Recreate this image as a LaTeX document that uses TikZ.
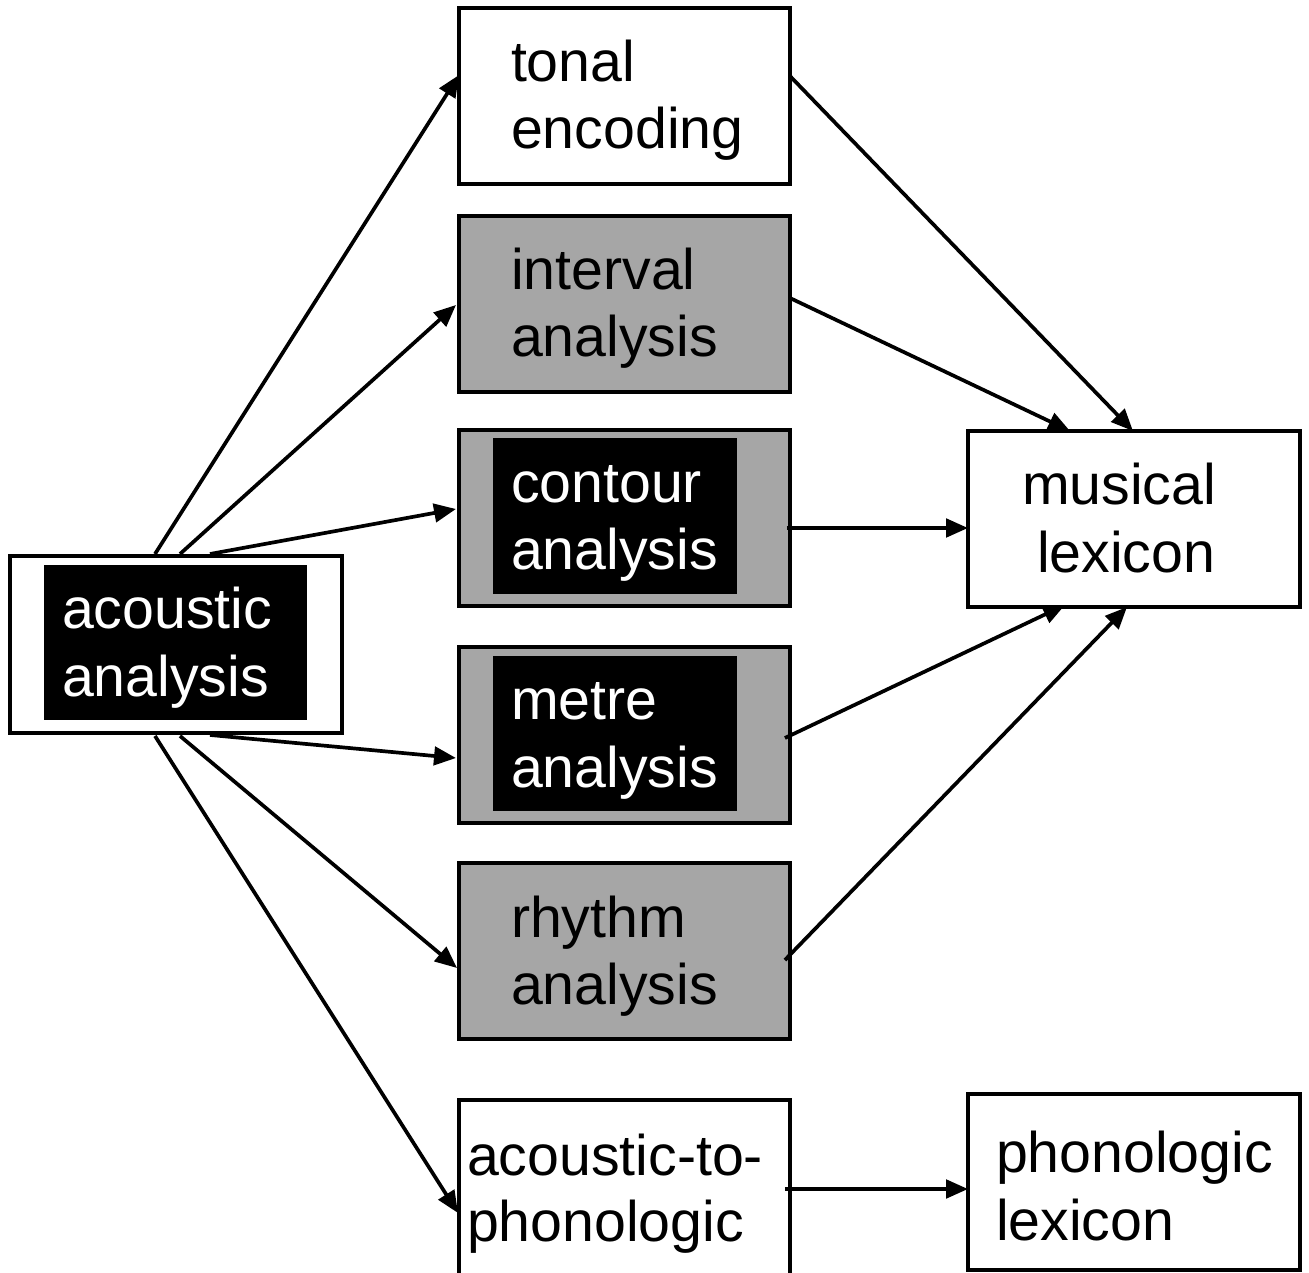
\documentclass[tikz,border=0pt]{standalone}
\usepackage{fontspec}
\setmainfont{Liberation Sans}
\usetikzlibrary{arrows.meta}
\definecolor{boxgray}{RGB}{166,166,166}
\begin{document}
\begin{tikzpicture}[x=0.02cm,y=-0.02cm,
  box/.style={draw=black,line width=2.1pt,anchor=north west,inner sep=0pt,outer sep=0pt,
              minimum width=6.62cm,minimum height=3.52cm},
  graybox/.style={box,fill=boxgray},
  blackbox/.style={fill=black,anchor=north west,inner sep=0pt,outer sep=0pt},
  txt/.style={anchor=base west,inner sep=0pt,outer sep=0pt,font=\fontsize{32.6}{38.8}\selectfont},
  wtxt/.style={txt,text=white},
  conn/.style={line width=2.1pt,-{Triangle[length=12.5pt,width=10.5pt]}}]
\useasboundingbox[fill=white] (0,0) rectangle (1309,1273);

% acoustic analysis
\node[box,minimum width=6.64cm,minimum height=3.54cm] (ac) at (10,556) {};
\node[blackbox,minimum width=5.26cm,minimum height=3.1cm] (acin) at (44,565) {};
\node[wtxt] (ac1) at (62,629) {acoustic};
\node[wtxt] (ac2) at (62,697) {analysis};

% tonal encoding
\node[box] (ton) at (459,8) {};
\node[txt] (ton1) at (511,82) {tonal};
\node[txt] (ton2) at (511,149) {encoding};

% interval analysis
\node[graybox] (int) at (459,216) {};
\node[txt] (int1) at (511,290) {interval};
\node[txt] (int2) at (511,357) {analysis};

% contour analysis
\node[graybox] (con) at (459,430) {};
\node[blackbox,minimum width=4.88cm,minimum height=3.12cm] (conin) at (493,438) {};
\node[wtxt] (con1) at (511,503) {contour};
\node[wtxt] (con2) at (511,570) {analysis};

% metre analysis
\node[graybox] (met) at (459,647) {};
\node[blackbox,minimum width=4.88cm,minimum height=3.1cm] (metin) at (493,656) {};
\node[wtxt] (met1) at (511,720) {metre};
\node[wtxt] (met2) at (511,787) {analysis};

% rhythm analysis
\node[graybox] (rhy) at (459,863) {};
\node[txt] (rhy1) at (511,937) {rhythm};
\node[txt] (rhy2) at (511,1004) {analysis};

% acoustic-to-phonologic
\node[box] (atp) at (459,1100) {};
\node[txt] (atp1) at (467,1175) {acoustic-to-};
\node[txt] (atp2) at (467,1241) {phonologic};

% musical lexicon
\node[box,minimum width=6.64cm] (mus) at (968,431) {};
\node[txt] (mus1) at (1022,505) {musical};
\node[txt] (mus2) at (1037,573) {lexicon};

% phonologic lexicon
\node[box,minimum width=6.64cm] (pho) at (968,1094) {};
\node[txt] (pho1) at (996,1172) {phonologic};
\node[txt] (pho2) at (996,1240) {lexicon};

% connectors from acoustic analysis
\draw[conn] ([shift={(145,-2)}]ac.north west) -- ([shift={(0,67)}]ton.north west);
\draw[conn] ([shift={(170,-2)}]ac.north west) -- ([shift={(-3,89)}]int.north west);
\draw[conn] ([shift={(200,-2)}]ac.north west) -- ([shift={(-3,79)}]con.north west);
\draw[conn] ([shift={(200,2)}]ac.south west) -- ([shift={(-3,111)}]met.north west);
\draw[conn] ([shift={(170,3)}]ac.south west) -- ([shift={(-2,105)}]rhy.north west);
\draw[conn] ([shift={(145,3)}]ac.south west) -- ([shift={(-1,113)}]atp.north west);

% connectors to musical lexicon
\draw[conn] ([shift={(0,68)}]ton.north east) -- ([shift={(165,0)}]mus.north west);
\draw[conn] ([shift={(0,82)}]int.north east) -- ([shift={(102,0)}]mus.north west);
\draw[conn] ([shift={(-3,98)}]con.north east) -- ([shift={(0,97)}]mus.north west);
\draw[conn] ([shift={(-5,91)}]met.north east) -- ([shift={(97,-2)}]mus.south west);
\draw[conn] ([shift={(-5,97)}]rhy.north east) -- ([shift={(159,0)}]mus.south west);

% acoustic-to-phonologic to phonologic lexicon
\draw[conn] ([shift={(-5,89)}]atp.north east) -- ([shift={(0,95)}]pho.north west);
\end{tikzpicture}
\end{document}
